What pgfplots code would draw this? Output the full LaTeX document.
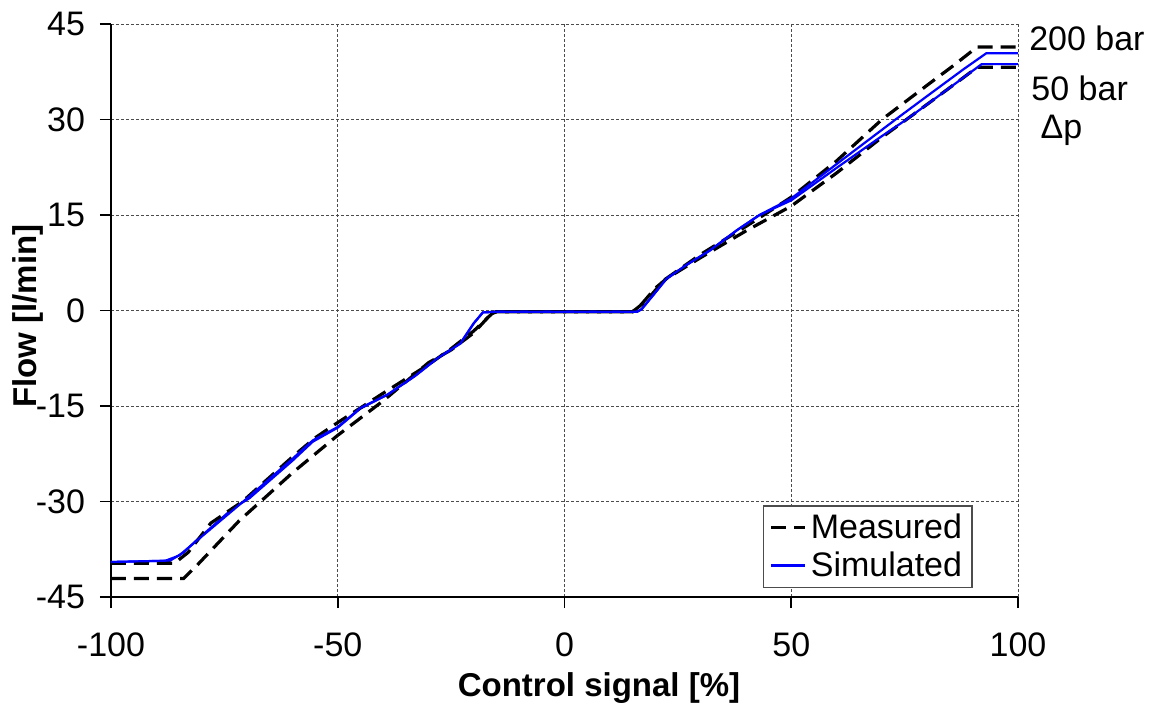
\documentclass[border=0pt]{standalone}
\usepackage{fontspec}
\setmainfont{Liberation Sans}
\usepackage{pgfplots}
\pgfplotsset{compat=1.18}
\begin{document}
\begin{tikzpicture}
\useasboundingbox (-55.5pt,-55pt) rectangle (522pt,298.5pt);
\begin{axis}[
    scale only axis,
    width=453.5pt,
    height=286.5pt,
    xmin=-100, xmax=100,
    ymin=-45, ymax=45,
    xtick={-100,-50,0,50,100},
    ytick={-45,-30,-15,0,15,30,45},
    axis x line*=bottom,
    axis y line*=left,
    axis line style={line width=0.8pt},
    tick align=outside,
    major tick length=5.5pt,
    tick style={black, line width=0.8pt},
    grid=major,
    grid style={gray!60!black, line width=0.5pt, dash pattern=on 1.5pt off 1pt},
    /pgf/number format/assume math mode=true,
    ticklabel style={font=\fontsize{17}{20}\selectfont},
    xticklabel style={yshift=-9pt},
    yticklabel style={xshift=-4pt},
    xlabel={\textbf{Control signal [\%]}},
    ylabel={\textbf{Flow [l/min]}},
    label style={font=\fontsize{16.5}{20}\selectfont},
    xlabel style={at={(axis description cs:0.538,-0.159)}, anchor=center},
    ylabel style={at={(axis description cs:-0.0915,0.49)}, anchor=center},
    clip=false,
    legend style={at={(axis description cs:0.95,0.016)}, anchor=south east,
        font=\fontsize{17}{20}\selectfont, draw=black!70, line width=0.6pt,
        row sep=1pt, inner xsep=3pt, inner ysep=2pt},
    legend cell align=left,
]
% measured, 200 bar
\addplot[black, line width=1.6pt, dash pattern=on 7.5pt off 4pt] coordinates {
 (-100,-42.1) (-84,-42.1) (-81,-40) (-71.7,-33) (-67,-30) (-60,-25.5) (-50,-19.6)
 (-40,-14.2) (-30,-8.2) (-25,-6.2) (-20,-3.5) (-16,-0.4) (-15,-0.2) (15,-0.2)
 (18,1.5) (22,4.8) (30,8.8) (40,13.2) (50,17.8) (60,23.5) (70,30) (80,35.4)
 (86,38.6) (91,41.4) (100,41.4)
};
\addlegendentry{Measured}
% simulated, 200 bar
\addplot[blue, line width=1.1pt] coordinates {
 (-100,-39.5) (-87,-39.3) (-84,-38) (-81,-36) (-73,-31) (-69.5,-29.5) (-60,-23.6)
 (-55.5,-20.6) (-50,-18.4) (-45,-15.4) (-39,-13.2) (-33,-10.3) (-28,-7.5)
 (-23,-5.2) (-20,-2) (-18,-0.3) (-15,-0.2) (16,-0.2) (17,0.2) (20,2.8)
 (22.5,5.0) (27,7.2) (32,9.4) (38,12.6) (43,15.0) (50,17.6) (60,23.0)
 (73,30) (80,33.7) (88,37.9) (93,40.4) (100,40.4)
};
\addlegendentry{Simulated}
% measured, 50 bar
\addplot[black, line width=1.6pt, dash pattern=on 7.5pt off 4pt, forget plot] coordinates {
 (-100,-39.7) (-86,-39.7) (-83,-38) (-78,-33.4) (-71,-30) (-60,-23) (-55,-20)
 (-50,-17.6) (-40,-13) (-30,-8.5) (-25,-6) (-20,-3.2) (-16,-0.5) (-15,-0.2)
 (15,-0.2) (17,1) (20,3.5) (22.5,5) (30,8.3) (40,12.5) (50,16.4) (60,21.6)
 (70,27.2) (75.4,30) (80,32.4) (88,36.6) (91,38.2) (100,38.2)
};
% simulated, 50 bar
\addplot[blue, line width=1.1pt, forget plot] coordinates {
 (-100,-39.5) (-88,-39.3) (-85,-38.5) (-80,-35.5) (-70,-29.5) (-60,-23.3)
 (-55.5,-20.4) (-50,-18.3) (-45,-15.3) (-39,-13.2) (-33,-10.3) (-28,-7.5)
 (-23,-5.2) (-20,-2) (-18,-0.3) (-15,-0.2) (16,-0.2) (17,0.2) (20,2.8)
 (22.5,5.0) (27,7.2) (32,9.4) (38,12.6) (43,15.0) (50,17.3) (60,22.4)
 (70,27.4) (75.4,30) (80,32.4) (88,36.6) (92,38.7) (100,38.7)
};
\node[font=\fontsize{17}{20}\selectfont] at (axis cs:115.2,42.7) {200 bar};
\node[font=\fontsize{17}{20}\selectfont] at (axis cs:113.6,34.9) {50 bar};
\node[font=\fontsize{17}{20}\selectfont] at (axis cs:109.6,28.3) {Δp};
\end{axis}
\end{tikzpicture}
\end{document}
